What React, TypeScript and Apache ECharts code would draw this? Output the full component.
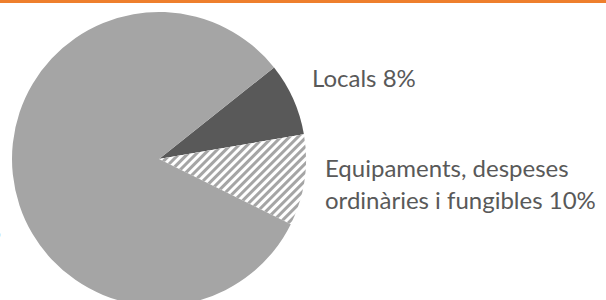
import React, { useEffect, useRef } from "react";
import * as echarts from "echarts";

const categories = ["Locals", "Equipaments, despeses\nordinàries i fungibles", "Personal"];
const values = [8, 10, 82];
const sliceColors = ["#595959", "#ffffff", "#a5a5a5"];

export default function App() {
  const ref = useRef<HTMLDivElement>(null);
  useEffect(() => {
    if (!ref.current) return;
    const chart = echarts.init(ref.current, undefined, { renderer: "svg" });
    const font = "Lato, 'Open Sans', sans-serif";
    const labelPos = [
      { x: 312, y: 77, align: "left" },
      { x: 325, y: 183, align: "left" },
      { x: 1, y: 229, align: "right" },
    ];
    chart.setOption({
      animation: false,
      backgroundColor: "#ffffff",
      graphic: [
        {
          type: "rect",
          shape: { x: 0, y: 0, width: 606, height: 3 },
          style: { fill: "#EE7F2D" },
          z: 10,
        },
      ],
      series: [
        {
          type: "pie",
          center: [159, 159],
          radius: 147,
          startAngle: 38.5,
          clockwise: true,
          silent: true,
          avoidLabelOverlap: false,
          label: {
            show: true,
            position: "outside",
            formatter: (p: any) => `${p.name} ${p.value}%`,
            color: "#595959",
            fontFamily: font,
            fontSize: 24,
            lineHeight: 32,
            overflow: "none",
            width: 400,
          },
          labelLine: { show: false },
          labelLayout: (params: any) => {
            const pos = labelPos[params.dataIndex];
            return {
              x: pos.x,
              y: pos.y,
              align: pos.align,
              verticalAlign: "middle",
              hideOverlap: false,
              moveOverlap: false,
            };
          },
          itemStyle: { borderWidth: 0 },
          data: categories.map((name, i) => ({
            name,
            value: values[i],
            itemStyle: {
              color: sliceColors[i],
              decal:
                i === 1
                  ? {
                      symbol: "rect",
                      symbolSize: 1,
                      dashArrayX: [1, 0],
                      dashArrayY: [3, 3],
                      rotation: -Math.PI / 4,
                      color: "#a5a5a5",
                    }
                  : undefined,
            },
          })),
        },
      ],
    });
    return () => chart.dispose();
  }, []);
  return (
    <div
      ref={ref}
      style={{ position: "fixed", left: 0, top: 0, width: 606, height: 300 }}
    />
  );
}
